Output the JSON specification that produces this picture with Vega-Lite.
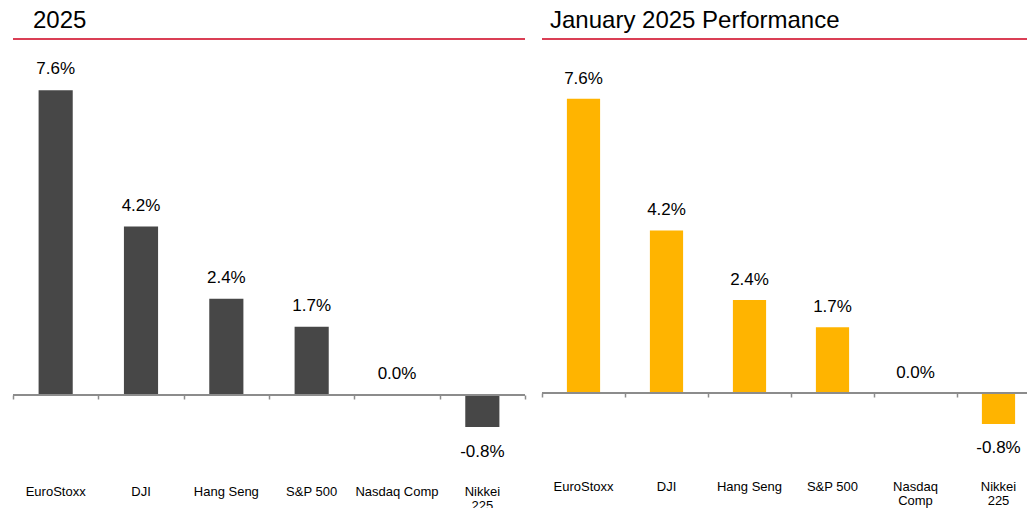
{
  "$schema": "https://vega.github.io/schema/vega-lite/v6.json",
  "padding": {"left": 12, "top": 9, "right": 0, "bottom": 0},
  "spacing": 15,
  "config": {
    "view": {"stroke": null},
    "font": "Liberation Sans",
    "title": {"anchor": "start", "fontSize": 24, "fontWeight": "normal", "color": "#000000", "baseline": "alphabetic", "offset": 5, "font": "Liberation Sans"}
  },
  "datasets": {
    "ytd": [
      {"index": "EuroStoxx", "label": "EuroStoxx", "value": 7.6, "pct": "7.6%"},
      {"index": "DJI", "label": "DJI", "value": 4.2, "pct": "4.2%"},
      {"index": "Hang Seng", "label": "Hang Seng", "value": 2.4, "pct": "2.4%"},
      {"index": "S&P 500", "label": "S&P 500", "value": 1.7, "pct": "1.7%"},
      {"index": "Nasdaq Comp", "label": "Nasdaq Comp", "value": 0.0, "pct": "0.0%"},
      {"index": "Nikkei 225", "label": "Nikkei\n225", "value": -0.8, "pct": "-0.8%"}
    ],
    "jan": [
      {"index": "EuroStoxx", "label": "EuroStoxx", "value": 7.6, "pct": "7.6%"},
      {"index": "DJI", "label": "DJI", "value": 4.2, "pct": "4.2%"},
      {"index": "Hang Seng", "label": "Hang Seng", "value": 2.4, "pct": "2.4%"},
      {"index": "S&P 500", "label": "S&P 500", "value": 1.7, "pct": "1.7%"},
      {"index": "Nasdaq Comp", "label": "Nasdaq\nComp", "value": 0.0, "pct": "0.0%"},
      {"index": "Nikkei 225", "label": "Nikkei\n225", "value": -0.8, "pct": "-0.8%"}
    ]
  },
  "hconcat": [
    {
      "width": 512,
      "height": 469,
      "title": {"text": "2025", "dx": 21},
      "data": {"name": "ytd"},
      "layer": [
        {
          "mark": {"type": "bar", "color": "#474747", "width": {"band": 0.4}},
          "encoding": {
            "x": {"field": "index", "type": "nominal", "sort": null, "scale": {"paddingInner": 0, "paddingOuter": 0},
                  "axis": {"orient": "bottom", "offset": -113, "labels": false, "domain": false, "ticks": true, "tickBand": "extent", "tickColor": "#8c8c8c", "tickSize": 4, "tickWidth": 1.5, "title": null}},
            "y": {"field": "value", "type": "quantitative", "scale": {"domain": [-2.818, 8.878], "nice": false}, "axis": null}
          }
        },
        {
          "data": {"values": [{}]},
          "mark": {"type": "rule", "color": "#8c8c8c", "strokeWidth": 2},
          "encoding": {"y": {"datum": 0, "type": "quantitative"}}
        },
        {
          "data": {"values": [{}]},
          "mark": {"type": "rule", "color": "#DA3F55", "strokeWidth": 2},
          "encoding": {"y": {"datum": 8.878, "type": "quantitative"}}
        },
        {
          "transform": [{"filter": "datum.value >= 0"}],
          "mark": {"type": "text", "fontSize": 17, "baseline": "alphabetic", "align": "center", "dy": -16, "color": "#000000"},
          "encoding": {
            "x": {"field": "index", "type": "nominal", "sort": null},
            "y": {"field": "value", "type": "quantitative"},
            "text": {"field": "pct"}
          }
        },
        {
          "transform": [{"filter": "datum.value < 0"}],
          "mark": {"type": "text", "fontSize": 17, "baseline": "alphabetic", "align": "center", "dy": 30, "color": "#000000"},
          "encoding": {
            "x": {"field": "index", "type": "nominal", "sort": null},
            "y": {"field": "value", "type": "quantitative"},
            "text": {"field": "pct"}
          }
        },
        {
          "mark": {"type": "text", "fontSize": 13, "baseline": "alphabetic", "align": "center", "lineBreak": "\n", "lineHeight": 14, "clip": true, "color": "#000000"},
          "encoding": {
            "x": {"field": "index", "type": "nominal", "sort": null},
            "y": {"datum": -2.531, "type": "quantitative"},
            "text": {"field": "label"}
          }
        }
      ]
    },
    {
      "width": 485,
      "height": 469,
      "title": {"text": "January 2025 Performance", "dx": 9},
      "data": {"name": "jan"},
      "layer": [
        {
          "mark": {"type": "bar", "color": "#FFB400", "width": {"band": 0.4}},
          "encoding": {
            "x": {"field": "index", "type": "nominal", "sort": null, "scale": {"paddingInner": 0, "paddingOuter": 0, "range": [0, 498]},
                  "axis": {"orient": "bottom", "offset": -115, "labels": false, "domain": false, "ticks": true, "bandPosition": 0, "tickColor": "#8c8c8c", "tickSize": 4, "tickWidth": 1.5, "title": null}},
            "y": {"field": "value", "type": "quantitative", "scale": {"domain": [-2.972, 9.147], "nice": false}, "axis": null}
          }
        },
        {
          "data": {"values": [{}]},
          "mark": {"type": "rule", "color": "#8c8c8c", "strokeWidth": 2},
          "encoding": {"y": {"datum": 0, "type": "quantitative"}}
        },
        {
          "data": {"values": [{}]},
          "mark": {"type": "rule", "color": "#DA3F55", "strokeWidth": 2},
          "encoding": {"y": {"datum": 9.147, "type": "quantitative"}}
        },
        {
          "transform": [{"filter": "datum.value >= 0"}],
          "mark": {"type": "text", "fontSize": 17, "baseline": "alphabetic", "align": "center", "dy": -15, "color": "#000000"},
          "encoding": {
            "x": {"field": "index", "type": "nominal", "sort": null},
            "y": {"field": "value", "type": "quantitative"},
            "text": {"field": "pct"}
          }
        },
        {
          "transform": [{"filter": "datum.value < 0"}],
          "mark": {"type": "text", "fontSize": 17, "baseline": "alphabetic", "align": "center", "dy": 29, "color": "#000000"},
          "encoding": {
            "x": {"field": "index", "type": "nominal", "sort": null},
            "y": {"field": "value", "type": "quantitative"},
            "text": {"field": "pct"}
          }
        },
        {
          "mark": {"type": "text", "fontSize": 13, "baseline": "alphabetic", "align": "center", "lineBreak": "\n", "lineHeight": 14, "clip": true, "color": "#000000"},
          "encoding": {
            "x": {"field": "index", "type": "nominal", "sort": null},
            "y": {"datum": -2.54, "type": "quantitative"},
            "text": {"field": "label"}
          }
        }
      ]
    }
  ]
}
